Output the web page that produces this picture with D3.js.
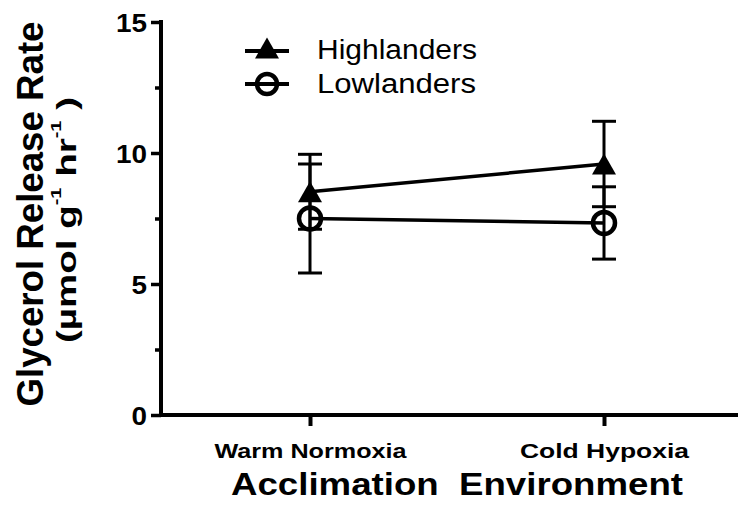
<!DOCTYPE html>
<html>
<head>
<meta charset="utf-8">
<script src="https://cdn.jsdelivr.net/npm/d3@7"></script>
<style>
  body { margin: 0; background: #fff; }
  text { font-family: "Liberation Sans", Arial, sans-serif; fill: #000; }
</style>
</head>
<body>
<div id="chart"></div>
<script>
// data
var environments = ["Warm Normoxia", "Cold Hypoxia"];
var highlanders = [8.52, 9.58];
var highlandersSem = [1.43, 1.63];
var lowlanders = [7.5, 7.33];
var lowlandersSem = [2.08, 1.38];
var majorTicks = [0, 5, 10, 15];
var minorTicks = [2.5, 7.5, 12.5];

var width = 738, height = 513;

var svg = d3.select("#chart")
    .append("svg")
    .attr("width", width)
    .attr("height", height);

// scales
var axisX = 161;
var x = d3.scalePoint()
    .domain(environments)
    .range([163, 751])
    .padding(0.5);

var y = d3.scaleLinear()
    .domain([0, 15])
    .range([415, 22]);

// minor y ticks
svg.append("g")
    .attr("transform", "translate(" + axisX + ",0)")
    .call(d3.axisLeft(y).tickValues(minorTicks).tickSize(6).tickFormat(""))
    .call(function(g) { g.select(".domain").remove(); })
    .selectAll("line").attr("stroke", "#000").attr("stroke-width", 3.5);

// major y ticks + labels
var yAxis = svg.append("g")
    .attr("transform", "translate(" + axisX + ",0)")
    .call(d3.axisLeft(y).tickValues(majorTicks).tickSize(10).tickPadding(4))
    .call(function(g) { g.select(".domain").remove(); });
yAxis.selectAll("line").attr("stroke", "#000").attr("stroke-width", 3.5);
yAxis.selectAll("text")
    .attr("font-size", 26)
    .attr("font-weight", "bold")
    .attr("font-family", "Liberation Sans, Arial, sans-serif")
    .attr("dy", "0.36em")
    .attr("textLength", function(d) { return String(d).length * 15.5; })
    .attr("lengthAdjust", "spacingAndGlyphs");

// x ticks + labels
var xAxis = svg.append("g")
    .attr("transform", "translate(0," + y(0) + ")")
    .call(d3.axisBottom(x).tickSize(11).tickPadding(17))
    .call(function(g) { g.select(".domain").remove(); });
xAxis.selectAll("line").attr("stroke", "#000").attr("stroke-width", 4);
xAxis.selectAll("text")
    .attr("font-size", 21)
    .attr("font-weight", "bold")
    .attr("font-family", "Liberation Sans, Arial, sans-serif")
    .attr("dy", "0.71em")
    .attr("textLength", function(d, i) { return i === 0 ? 192 : 169; })
    .attr("lengthAdjust", "spacingAndGlyphs");

// axis lines
svg.append("line")
    .attr("x1", axisX).attr("x2", axisX)
    .attr("y1", y(15)).attr("y2", y(0))
    .attr("stroke", "#000").attr("stroke-width", 4)
    .attr("stroke-linecap", "square");
svg.append("line")
    .attr("x1", axisX).attr("x2", width)
    .attr("y1", y(0)).attr("y2", y(0))
    .attr("stroke", "#000").attr("stroke-width", 4)
    .attr("stroke-linecap", "square");

// error bars
function errorBars(vals, sems) {
    var g = svg.append("g");
    vals.forEach(function(v, i) {
        var cx = x(environments[i]);
        g.append("line")
            .attr("x1", cx).attr("x2", cx)
            .attr("y1", y(v + sems[i])).attr("y2", y(v - sems[i]))
            .attr("stroke", "#000").attr("stroke-width", 3);
        [v + sems[i], v - sems[i]].forEach(function(e) {
            g.append("line")
                .attr("x1", cx - 12).attr("x2", cx + 12)
                .attr("y1", y(e)).attr("y2", y(e))
                .attr("stroke", "#000").attr("stroke-width", 3);
        });
    });
}
errorBars(highlanders, highlandersSem);
errorBars(lowlanders, lowlandersSem);

// connecting lines
var line = d3.line()
    .x(function(d, i) { return x(environments[i]); })
    .y(function(d) { return y(d); });

svg.append("path")
    .datum(highlanders)
    .attr("fill", "none").attr("stroke", "#000").attr("stroke-width", 3.5)
    .attr("d", line);
svg.append("path")
    .datum(lowlanders)
    .attr("fill", "none").attr("stroke", "#000").attr("stroke-width", 3.5)
    .attr("d", line);

// markers
function triangle(cx, cy) {
    return "M" + cx + "," + (cy - 10.5) + "L" + (cx + 12) + "," + (cy + 10.5) +
        "L" + (cx - 12) + "," + (cy + 10.5) + "Z";
}
svg.selectAll(".tri")
    .data(highlanders)
    .enter().append("path")
    .attr("d", function(d, i) { return triangle(x(environments[i]), y(d)); })
    .attr("fill", "#000");

svg.selectAll(".circ")
    .data(lowlanders)
    .enter().append("circle")
    .attr("cx", function(d, i) { return x(environments[i]); })
    .attr("cy", function(d) { return y(d); })
    .attr("r", 11)
    .attr("fill", "none")
    .attr("stroke", "#000")
    .attr("stroke-width", 4.5);

// legend
var legend = svg.append("g");
legend.append("line")
    .attr("x1", 245).attr("x2", 289).attr("y1", 51).attr("y2", 51)
    .attr("stroke", "#000").attr("stroke-width", 4);
legend.append("path").attr("d", triangle(267, 48)).attr("fill", "#000");
legend.append("text")
    .attr("x", 317).attr("y", 59)
    .attr("font-size", 27)
    .attr("textLength", 160).attr("lengthAdjust", "spacingAndGlyphs")
    .text("Highlanders");

legend.append("line")
    .attr("x1", 245).attr("x2", 289).attr("y1", 84).attr("y2", 84)
    .attr("stroke", "#000").attr("stroke-width", 4);
legend.append("circle")
    .attr("cx", 267).attr("cy", 84).attr("r", 10)
    .attr("fill", "none").attr("stroke", "#000").attr("stroke-width", 4.5);
legend.append("text")
    .attr("x", 317).attr("y", 93)
    .attr("font-size", 27)
    .attr("textLength", 159).attr("lengthAdjust", "spacingAndGlyphs")
    .text("Lowlanders");

// axis titles
svg.append("text")
    .attr("x", 457).attr("y", 495)
    .attr("text-anchor", "middle")
    .attr("font-size", 31)
    .attr("font-weight", "bold")
    .attr("textLength", 452).attr("lengthAdjust", "spacingAndGlyphs")
    .style("white-space", "pre")
    .text("Acclimation  Environment");

svg.append("text")
    .attr("transform", "translate(43,214) rotate(-90)")
    .attr("text-anchor", "middle")
    .attr("font-size", 36)
    .attr("font-weight", "bold")
    .attr("textLength", 385).attr("lengthAdjust", "spacingAndGlyphs")
    .text("Glycerol Release Rate");

var unit = svg.append("text")
    .attr("transform", "translate(76,220) rotate(-90)")
    .attr("text-anchor", "middle")
    .attr("font-size", 27)
    .attr("font-weight", "bold")
    .attr("textLength", 246).attr("lengthAdjust", "spacingAndGlyphs");
unit.append("tspan").text("(\u00b5mol g");
unit.append("tspan").attr("font-size", 14).attr("dy", -15).text("-1");
unit.append("tspan").attr("dy", 15).text(" hr");
unit.append("tspan").attr("font-size", 14).attr("dy", -15).text("-1");
unit.append("tspan").attr("dy", 15).text(" )");
</script>
</body>
</html>
